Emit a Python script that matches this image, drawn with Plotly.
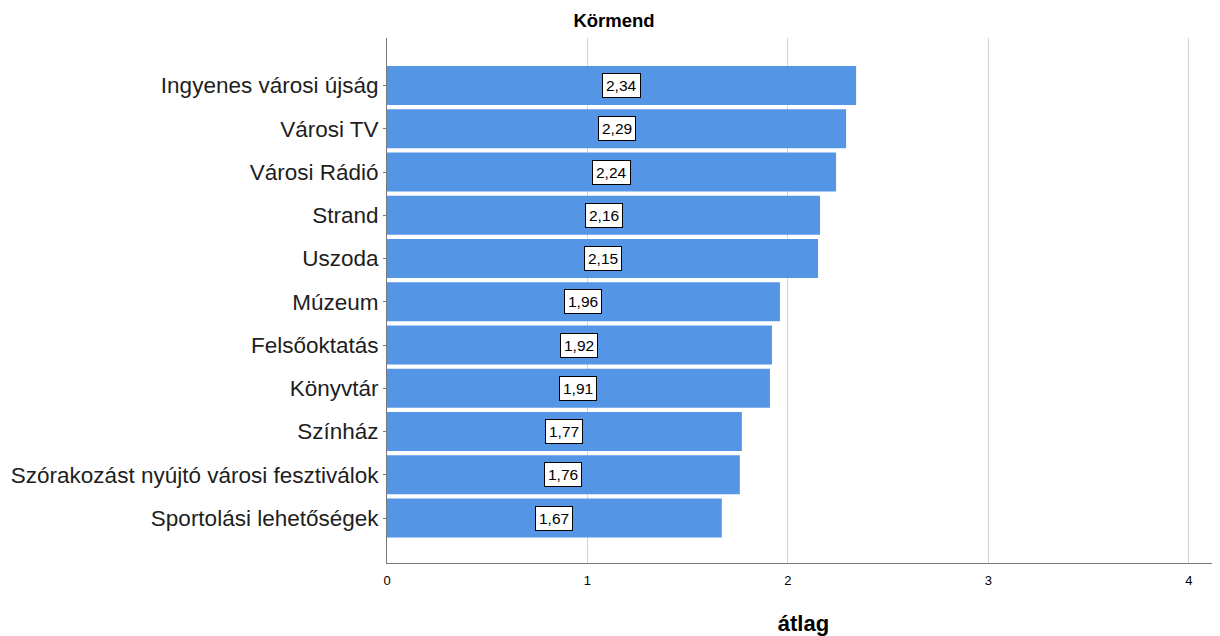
import plotly.graph_objects as go

categories = ["Ingyenes városi újság", "Városi TV", "Városi Rádió", "Strand", "Uszoda",
              "Múzeum", "Felsőoktatás", "Könyvtár", "Színház",
              "Szórakozást nyújtó városi fesztiválok", "Sportolási lehetőségek"]
values = [2.34, 2.29, 2.24, 2.16, 2.15, 1.96, 1.92, 1.91, 1.77, 1.76, 1.67]
value_labels = [f"{v:.2f}".replace(".", ",") for v in values]

fig = go.Figure()
fig.add_trace(go.Bar(
    x=values, y=categories, orientation="h",
    marker=dict(color="rgb(84,150,229)", line=dict(width=0)),
    width=0.9, hoverinfo="skip", showlegend=False,
))

for v, c, t in zip(values, categories, value_labels):
    fig.add_annotation(x=v / 2, y=c, text=t, showarrow=False,
                       font=dict(family="Liberation Sans, Arial", size=15.5, color="black"),
                       bgcolor="white", bordercolor="black", borderwidth=1, borderpad=3)

fig.update_layout(
    width=1212, height=628,
    margin=dict(l=379, r=0, t=30, b=71),
    plot_bgcolor="white", paper_bgcolor="white",
    title=dict(text="<b>Körmend</b>", x=0.5, xref="container", y=1 - 13 / 628, yref="container",
               xanchor="center", yanchor="middle",
               font=dict(family="Liberation Sans, Arial", size=18.5, color="black")),
    xaxis=dict(range=[0, 4.155], tickvals=[0, 1, 2, 3, 4], ticktext=["0", "1", "2", "3", "4"],
               showgrid=True, gridcolor="rgb(210,210,210)", gridwidth=1,
               showline=True, linecolor="rgb(120,120,120)", linewidth=1,
               zeroline=False, ticks="", ticklen=0, ticklabelstandoff=5,
               tickfont=dict(family="Liberation Sans, Arial", size=13, color="black"),
               title=dict(text="<b>átlag</b>", standoff=33,
                          font=dict(family="Liberation Sans, Arial", size=22, color="black"))),
    yaxis=dict(type="category", range=[10 + 1.04, -1.1],
               showline=True, linecolor="rgb(120,120,120)", linewidth=1,
               showgrid=False, ticks="outside", ticklen=3, tickcolor="rgb(120,120,120)",
               tickfont=dict(family="Liberation Sans, Arial", size=22.5, color="rgb(30,30,30)")),
)

fig.write_html("out.html")
